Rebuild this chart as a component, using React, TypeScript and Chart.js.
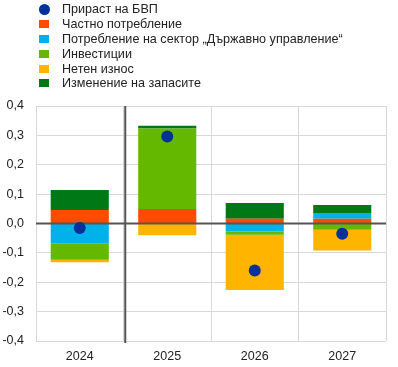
import React, { useEffect, useRef } from "react";
import { Chart, registerables } from "chart.js";

Chart.register(...registerables);

const categories = ["2024", "2025", "2026", "2027"];
const gdpGrowth = [-0.015, 0.296, -0.16, -0.035];
const privateConsumption = [0.046, 0.049, 0.016, 0.016];
const governmentConsumption = [-0.067, 0, -0.027, 0.02];
const investment = [-0.056, 0.274, -0.011, -0.021];
const netExports = [-0.009, -0.04, -0.188, -0.071];
const inventories = [0.068, 0.01, 0.054, 0.027];
const yTicks = [-0.4, -0.3, -0.2, -0.1, 0, 0.1, 0.2, 0.3, 0.4];

const legendItems = [
  { label: "Прираст на БВП", color: "#003299", dot: true },
  { label: "Частно потребление", color: "#FF4B00", dot: false },
  { label: "Потребление на сектор „Държавно управление“", color: "#00B1EA", dot: false },
  { label: "Инвестиции", color: "#65B800", dot: false },
  { label: "Нетен износ", color: "#FFB400", dot: false },
  { label: "Изменение на запасите", color: "#007816", dot: false },
];

const FONT = "Arial, 'Liberation Sans', sans-serif";

export default function App() {
  const ref = useRef<HTMLCanvasElement>(null);
  useEffect(() => {
    if (!ref.current) return;
    const lineIndex = 5;
    const overlay = {
      id: "overlay",
      beforeDatasetDraw(chart: any, args: any) {
        if (args.index !== lineIndex) return;
        const { ctx, chartArea, scales } = chart;
        const y0 = scales.y.getPixelForValue(0);
        ctx.save();
        ctx.strokeStyle = "#555555";
        ctx.lineWidth = 2;
        ctx.beginPath();
        ctx.moveTo(chartArea.left, y0);
        ctx.lineTo(chartArea.right, y0);
        ctx.stroke();
        const xs = scales.x.getPixelForValue(0.52);
        ctx.beginPath();
        ctx.moveTo(xs, chartArea.top);
        ctx.lineTo(xs, chartArea.bottom + 2);
        ctx.stroke();
        ctx.restore();
      },
    };
    const barCommon = { barPercentage: 0.83, categoryPercentage: 0.8, borderWidth: 0, stack: "bars", order: 1 };
    const chart = new Chart(ref.current, {
      type: "bar",
      data: {
        labels: categories,
        datasets: [
          { label: "Частно потребление", data: privateConsumption, backgroundColor: "#FF4B00", ...barCommon },
          { label: "Потребление на сектор „Държавно управление“", data: governmentConsumption, backgroundColor: "#00B1EA", ...barCommon },
          { label: "Инвестиции", data: investment, backgroundColor: "#65B800", ...barCommon },
          { label: "Нетен износ", data: netExports, backgroundColor: "#FFB400", ...barCommon },
          { label: "Изменение на запасите", data: inventories, backgroundColor: "#007816", ...barCommon },
          {
            type: "line",
            label: "Прираст на БВП",
            data: gdpGrowth,
            stack: "gdp",
            order: 0,
            showLine: false,
            pointRadius: 6,
            pointHoverRadius: 6,
            pointBackgroundColor: "#003299",
            pointBorderColor: "#003299",
            borderColor: "#003299",
            backgroundColor: "#003299",
            pointBorderWidth: 0,
          } as any,
        ],
      },
      options: {
        animation: false,
        responsive: false,
        maintainAspectRatio: false,
        layout: { padding: { top: 106, left: 0, right: 12, bottom: 0 } },
        plugins: { legend: { display: false }, tooltip: { enabled: false } },
        scales: {
          x: {
            stacked: true,
            grid: { color: "#d9d9d9", lineWidth: 1, drawTicks: false, offset: true },
            border: { display: false },
            ticks: { color: "#222", font: { family: FONT, size: 12.5 }, padding: 8 },
            afterFit(axis: any) {
              axis.height = 26;
            },
          },
          y: {
            stacked: true,
            min: -0.4,
            max: 0.4,
            afterBuildTicks(axis: any) {
              axis.ticks = yTicks.map((v) => ({ value: v }));
            },
            afterFit(axis: any) {
              axis.width = 36;
            },
            grid: { color: "#d9d9d9", lineWidth: 1, drawTicks: false },
            border: { display: false },
            ticks: {
              color: "#222",
              font: { family: FONT, size: 12.5 },
              padding: 12,
              callback: (v: any) => Number(v).toFixed(1).replace(".", ","),
            },
          },
        },
      },
      plugins: [overlay],
    });
    return () => chart.destroy();
  }, []);

  return (
    <div style={{ position: "absolute", left: 0, top: 0, width: 398, height: 367, background: "#fff" }}>
      <canvas ref={ref} width={398} height={367} style={{ position: "absolute", left: 0, top: 0 }} />
      <div style={{ position: "absolute", left: 39, top: 2, fontFamily: FONT, fontSize: 12.6, color: "#222" }}>
        {legendItems.map((it) => (
          <div key={it.label} style={{ display: "flex", alignItems: "center", height: 14.8 }}>
            <span
              style={{
                display: "inline-block",
                width: it.dot ? 11 : 10,
                height: it.dot ? 11 : 8,
                borderRadius: it.dot ? "50%" : 0,
                background: it.color,
                marginRight: it.dot ? 12 : 13,
              }}
            />
            <span style={{ whiteSpace: "nowrap" }}>{it.label}</span>
          </div>
        ))}
      </div>
    </div>
  );
}
